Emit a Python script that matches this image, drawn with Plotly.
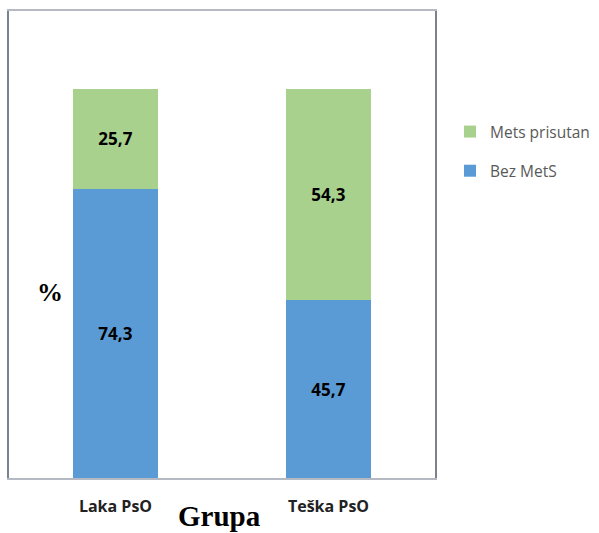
import plotly.graph_objects as go

categories = ["Laka PsO", "Teška PsO"]
bez_mets = [74.3, 45.7]
mets_prisutan = [25.7, 54.3]
series_names = ["Bez MetS", "Mets prisutan"]
colors = ["#5b9bd5", "#a9d18e"]
legend_ranks = [2, 1]

fig = go.Figure()
for name, vals, col, rank in zip(series_names, [bez_mets, mets_prisutan], colors, legend_ranks):
    fig.add_trace(go.Bar(
        x=categories, y=vals, name=name, marker=dict(color=col, line=dict(width=0)),
        width=0.4, texttemplate="%{y:.1f}", textposition="inside", insidetextanchor="middle",
        textfont=dict(family="Open Sans, Arial", size=17, color="#000000", weight="bold"),
        legendgroup=name, legendrank=rank,
    ))

fig.update_layout(
    barmode="stack",
    separators=",.",
    width=599, height=533,
    margin=dict(l=9, r=164, t=11, b=54.5, autoexpand=False),
    paper_bgcolor="white", plot_bgcolor="white",
    showlegend=True,
    legend=dict(xref="container", yref="container", x=450 / 599, y=1 - 115 / 533,
                xanchor="left", yanchor="top",
                traceorder="grouped", tracegroupgap=16,
                font=dict(family="Open Sans, Arial", size=15.5, color="#595959"),
                itemwidth=30),
    xaxis=dict(showline=True, linecolor="#b4b9c3", linewidth=1.5, mirror=True,
               ticks="outside", ticklen=13, tickcolor="rgba(0,0,0,0)",
               tickfont=dict(family="Open Sans, Arial", size=16, color="#222222", weight="bold"),
               showgrid=False),
    yaxis=dict(range=[0, 120], showline=True, linecolor="#7a8290", linewidth=1.5, mirror=True,
               showticklabels=False, ticks="", showgrid=False, zeroline=False),
    annotations=[
        dict(text="%", xref="paper", yref="paper", x=(50 - 9) / 426, y=0.397,
             xanchor="center", yanchor="middle", showarrow=False,
             font=dict(family="Liberation Serif, Times New Roman", size=26, color="#000000", weight="bold")),
        dict(text="Grupa", xref="paper", yref="paper", x=(219 - 9) / 426, y=-(517 - 478.5) / 467.5,
             xanchor="center", yanchor="middle", showarrow=False,
             font=dict(family="Liberation Serif, Times New Roman", size=29, color="#000000", weight="bold")),
    ],
)

fig.write_html("out.html")
